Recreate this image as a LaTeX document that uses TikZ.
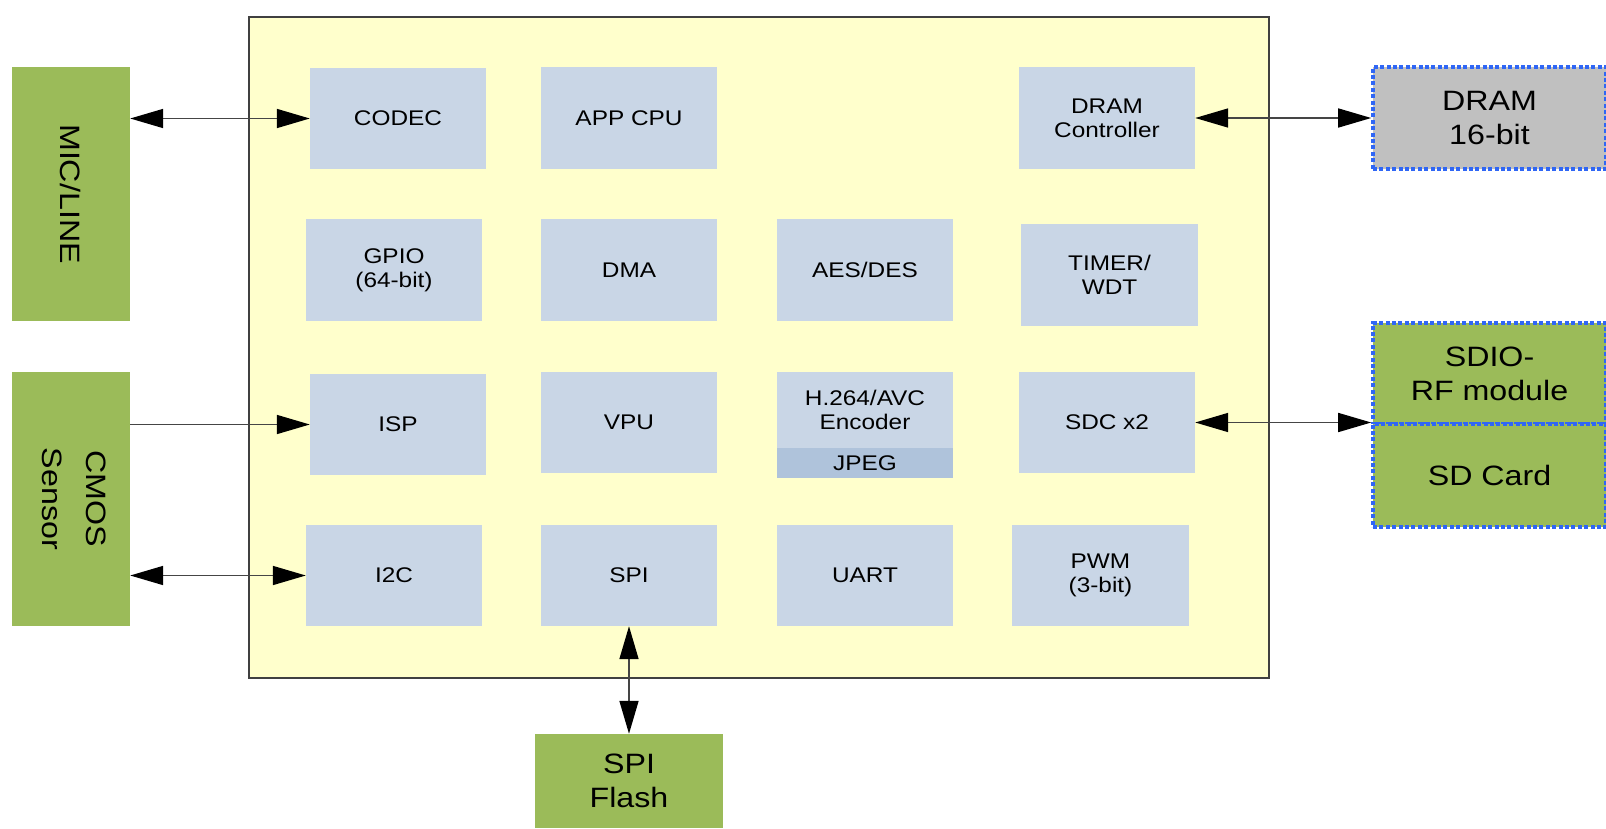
\documentclass[tikz,border=0pt]{standalone}
\usepackage{fontspec}
\setmainfont{Liberation Sans}[FakeStretch=1.15]
\usetikzlibrary{arrows.meta}
\definecolor{socyellow}{HTML}{FFFFCC}
\definecolor{blkblue}{HTML}{C9D6E6}
\definecolor{jpegblue}{HTML}{AFC3DB}
\definecolor{extgreen}{HTML}{9BBB59}
\definecolor{extgray}{HTML}{C0C0C0}
\definecolor{dotblue}{HTML}{2F66F5}
\definecolor{linegray}{HTML}{454545}
\tikzset{
  blk/.style={rectangle, fill=blkblue, inner sep=0pt, align=center,
    font=\fontsize{21.2}{24.3}\selectfont, text=black},
  ext/.style={rectangle, fill=extgreen, inner sep=0pt, align=center,
    font=\fontsize{28}{34}\selectfont, text=black},
  dotbox/.style={draw=dotblue, line width=3.6pt, dash pattern=on 4pt off 2.4pt},
  conn/.style={draw=linegray, line width=1.6pt,
    arrows={Triangle[length=33pt,width=19pt,color=black]-Triangle[length=33pt,width=19pt,color=black]}},
  connone/.style={draw=linegray, line width=1.6pt,
    arrows={-Triangle[length=33pt,width=19pt,color=black]}},
}
\begin{document}
\begin{tikzpicture}[x=1pt,y=-1pt]
\useasboundingbox (0,0) rectangle (1606,829);
\fill[white] (0,0) rectangle (1606,829);
% SoC
\node[rectangle, draw=black!75, line width=1.3pt, fill=socyellow, inner sep=0pt,
  minimum width=1020pt, minimum height=661pt] (soc) at (759,347.5) {};
% external devices
\node[ext, minimum width=118pt, minimum height=254pt] (mic) at (71,194) {\rotatebox{-90}{MIC/LINE}};
\node[ext, minimum width=118pt, minimum height=254pt] (cmos) at (71,499)
  {\rotatebox{-90}{\begin{tabular}{@{}c@{}}CMOS\\[10pt]Sensor\end{tabular}}};
\node[ext, minimum width=188pt, minimum height=94pt] (flash) at (629,781) {SPI\\Flash};
\node[ext, dotbox, fill=extgray, minimum width=233pt, minimum height=102pt] (dram) at (1489.5,118) {DRAM\\16-bit};
\node[ext, dotbox, minimum width=233pt, minimum height=101pt] (sdio) at (1489.5,373.5) {SDIO-\\RF module};
\node[ext, dotbox, minimum width=233pt, minimum height=103pt] (sdcard) at (1489.5,475.5) {SD Card};
% inner blocks
\node[blk, minimum width=176pt, minimum height=101pt] (codec) at (398,118.5) {CODEC};
\node[blk, minimum width=176pt, minimum height=102pt] (appcpu) at (629,118) {APP CPU};
\node[blk, minimum width=176pt, minimum height=102pt] (dramc) at (1107,118) {DRAM\\Controller};
\node[blk, minimum width=176pt, minimum height=102pt] (gpio) at (394,270) {GPIO\\(64-bit)};
\node[blk, minimum width=176pt, minimum height=102pt] (dma) at (629,270) {DMA};
\node[blk, minimum width=176pt, minimum height=102pt] (aes) at (865,270) {AES/DES};
\node[blk, minimum width=177pt, minimum height=102pt] (timer) at (1109.5,275) {TIMER/\\WDT};
\node[blk, minimum width=176pt, minimum height=101pt] (isp) at (398,424.5) {ISP};
\node[blk, minimum width=176pt, minimum height=101pt] (vpu) at (629,422.5) {VPU};
\node[blk, minimum width=176pt, minimum height=76pt] (h264) at (865,410) {H.264/AVC\\Encoder};
\node[blk, fill=jpegblue, minimum width=176pt, minimum height=30pt] (jpeg) at (865,463) {JPEG};
\node[blk, minimum width=176pt, minimum height=101pt] (sdc) at (1107,422.5) {SDC x2};
\node[blk, minimum width=176pt, minimum height=101pt] (i2c) at (394,575.5) {I2C};
\node[blk, minimum width=176pt, minimum height=101pt] (spi) at (629,575.5) {SPI};
\node[blk, minimum width=176pt, minimum height=101pt] (uart) at (865,575.5) {UART};
\node[blk, minimum width=177pt, minimum height=101pt] (pwm) at (1100.5,575.5) {PWM\\(3-bit)};
% connectors
\draw[conn] (codec.west -| mic.east) -- (codec.west);
\draw[connone] (isp.west -| cmos.east) -- (isp.west);
\draw[conn] (i2c.west -| cmos.east) -- (i2c.west);
\draw[conn] (spi.south) -- (flash.north);
\draw[conn] (dramc.east) -- (dramc.east -| dram.west);
\draw[conn] (sdc.east) -- (sdc.east -| sdio.west);
\end{tikzpicture}
\end{document}
